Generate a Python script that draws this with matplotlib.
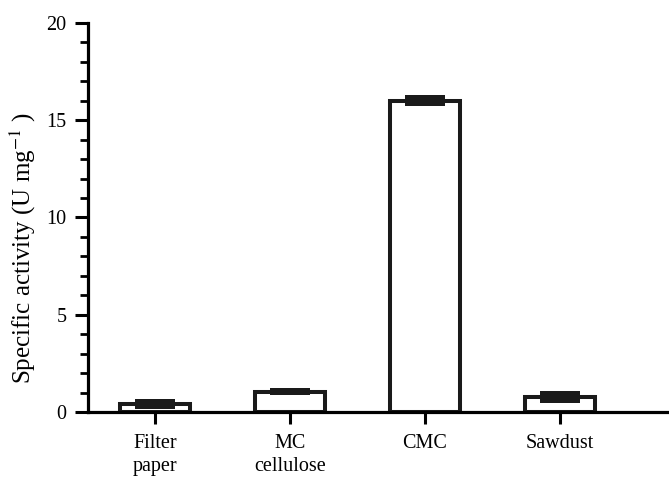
import matplotlib
matplotlib.use("Agg")
import matplotlib.pyplot as plt
import numpy as np

categories = ["Filter\npaper", "MC\ncellulose", "CMC", "Sawdust"]
values = [0.41, 1.05, 16.0, 0.77]
errors = [0.25, 0.17, 0.28, 0.29]

plt.rcParams['font.family'] = ['Liberation Serif', 'DejaVu Serif']
plt.rcParams['mathtext.fontset'] = 'stix'
fig = plt.figure(figsize=(6.69, 4.78), dpi=100)
ax = fig.add_axes([88/669, 66/478, 1 - 88/669, (412-23)/478])
x = np.arange(len(categories))
ax.bar(x, values, width=0.52, facecolor='white', edgecolor='#1a1a1a', linewidth=2.9, zorder=2)
ax.bar(x, [2*e for e in errors], bottom=[v - e for v, e in zip(values, errors)], width=0.30,
       color='#1a1a1a', linewidth=0, zorder=3)
ax.set_xlim(-0.496, 3.807)
ax.set_ylim(0, 20)
ax.set_xticks(x)
ax.set_xticklabels(categories, fontsize=14.5, linespacing=1.3)
ax.set_yticks([0, 5, 10, 15, 20])
ax.set_yticks(np.arange(0, 21, 1), minor=True)
ax.tick_params(axis='y', which='major', length=9.4, width=2.2, labelsize=14.5, pad=6)
ax.tick_params(axis='y', which='minor', length=5.8, width=2.0)
ax.tick_params(axis='x', which='major', length=8.6, width=2.2, pad=7)
for s in ['top', 'right']:
    ax.spines[s].set_visible(False)
for s in ['left', 'bottom']:
    ax.spines[s].set_linewidth(2.3)
ax.spines['left'].set_zorder(4)
ax.set_ylabel("Specific activity (U mg$^{-1}$ )", fontsize=18)
ax.yaxis.set_label_coords(-0.086, 0.422)
fig.savefig("out.png", dpi=100)
